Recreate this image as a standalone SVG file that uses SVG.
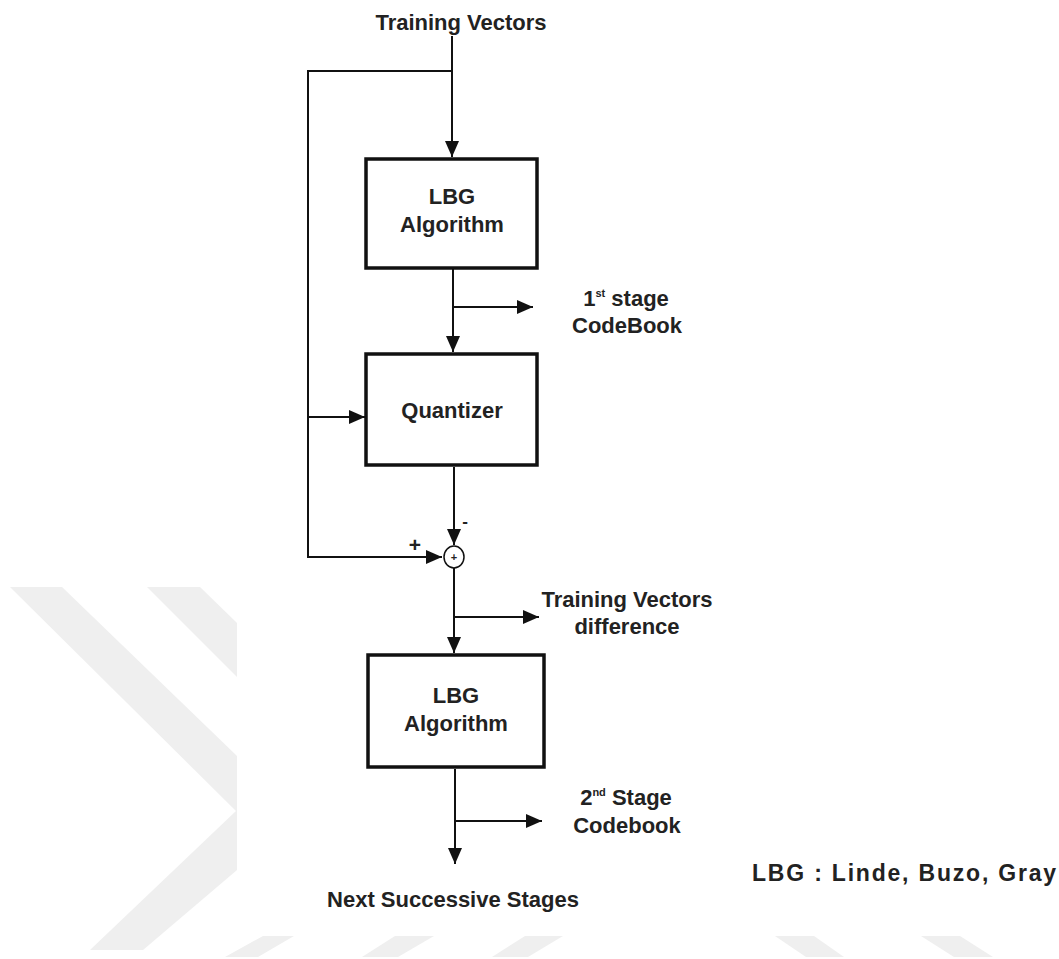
<svg xmlns="http://www.w3.org/2000/svg" width="1059" height="959" viewBox="0 0 1059 959">
  <defs>
    <style>
      .t { font-family: "Liberation Sans", Arial, sans-serif; font-weight: bold; font-size: 22px; fill: #222; }
      .m { text-anchor: middle; }
      .box { fill: #fff; stroke: #111; stroke-width: 3.5; }
      .ln { fill: none; stroke: #111; stroke-width: 2; }
      .wm { fill: #efefef; }
    </style>
    <marker id="ah" viewBox="0 0 16 14" refX="16" refY="7" markerWidth="16" markerHeight="14" markerUnits="userSpaceOnUse" orient="auto">
      <path d="M0,0 L16,7 L0,14 Z" fill="#111"/>
    </marker>
  </defs>
  <rect width="1059" height="959" fill="#fff"/>

  <g id="watermark">
    <polygon class="wm" points="10,587 62,587 237,756 237,870 143,950 90,950 236,811"/>
    <polygon class="wm" points="147,587 200,587 237,623 237,677"/>
    <polygon class="wm" points="263,936 294,936 258,957 225,957"/>
    <polygon class="wm" points="395,936 434,936 398,957 362,957"/>
    <polygon class="wm" points="525,936 563,936 528,957 492,957"/>
    <polygon class="wm" points="775,936 814,936 844,957 806,957"/>
    <polygon class="wm" points="921,936 960,936 993,957 954,957"/>
  </g>

  <g id="connectors">
    <line class="ln" x1="452" y1="36" x2="452" y2="157" marker-end="url(#ah)"/>
    <polyline class="ln" points="452,71 308,71 308,557 442,557" marker-end="url(#ah)"/>
    <line class="ln" x1="308" y1="417" x2="365" y2="417" marker-end="url(#ah)"/>
    <line class="ln" x1="453" y1="269" x2="453" y2="352" marker-end="url(#ah)"/>
    <line class="ln" x1="453" y1="307" x2="533" y2="307" marker-end="url(#ah)"/>
    <line class="ln" x1="454" y1="467" x2="454" y2="545" marker-end="url(#ah)"/>
    <line class="ln" x1="454" y1="568" x2="454" y2="653" marker-end="url(#ah)"/>
    <line class="ln" x1="454" y1="617" x2="539" y2="617" marker-end="url(#ah)"/>
    <line class="ln" x1="455" y1="769" x2="455" y2="864" marker-end="url(#ah)"/>
    <line class="ln" x1="455" y1="821" x2="542" y2="821" marker-end="url(#ah)"/>
  </g>

  <g id="title">
    <text class="t m" x="461" y="30">Training Vectors</text>
  </g>

  <g id="lbg1">
    <rect class="box" x="366" y="159" width="171" height="109"/>
    <text class="t m" x="452" y="204">LBG</text>
    <text class="t m" x="452" y="232">Algorithm</text>
  </g>

  <g id="cb1">
    <text class="t m" x="626" y="306">1<tspan font-size="11" dy="-9">st</tspan><tspan dy="9"> stage</tspan></text>
    <text class="t m" x="627" y="333">CodeBook</text>
  </g>

  <g id="quantizer">
    <rect class="box" x="366" y="354" width="171" height="111"/>
    <text class="t m" x="452" y="418">Quantizer</text>
  </g>

  <g id="sum">
    <ellipse cx="454" cy="557" rx="10" ry="11" fill="#fff" stroke="#111" stroke-width="1.5"/>
    <text class="t m" x="454" y="561" style="font-size:11px">+</text>
    <text class="t m" x="415" y="552" style="font-size:21px">+</text>
    <text class="t m" x="465" y="527" style="font-size:17px">-</text>
  </g>

  <g id="diff">
    <text class="t m" x="627" y="607">Training Vectors</text>
    <text class="t m" x="627" y="634">difference</text>
  </g>

  <g id="lbg2">
    <rect class="box" x="368" y="655" width="176" height="112"/>
    <text class="t m" x="456" y="703">LBG</text>
    <text class="t m" x="456" y="731">Algorithm</text>
  </g>

  <g id="cb2">
    <text class="t m" x="626" y="805">2<tspan font-size="11" dy="-9">nd</tspan><tspan dy="9"> Stage</tspan></text>
    <text class="t m" x="627" y="833">Codebook</text>
  </g>

  <g id="next">
    <text class="t m" x="453" y="907">Next Successive Stages</text>
  </g>

  <g id="legend">
    <text class="t" x="752" y="881" style="font-size:23px" letter-spacing="1.8">LBG : Linde, Buzo, Gray</text>
  </g>
</svg>
